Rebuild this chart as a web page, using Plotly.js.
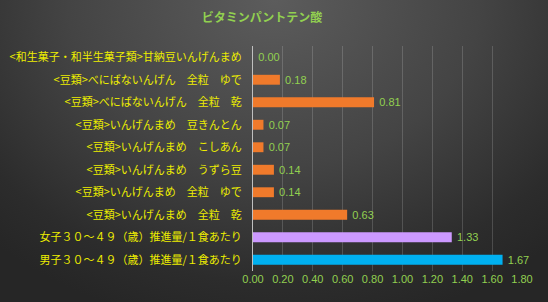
<!DOCTYPE html>
<html>
<head>
<meta charset="utf-8">
<script src="https://cdn.plot.ly/plotly-3.0.1.min.js"></script>
<style>
  html, body { margin: 0; padding: 0; }
  #chart {
    width: 548px; height: 302px;
    background: radial-gradient(ellipse 75% 110% at 50% 0%, #5c5c5c 0%, #444444 50%, #2c2c2c 85%, #262626 100%);
  }
</style>
</head>
<body>
<div id="chart"></div>
<script>
const categories = [
  "<和生菓子・和半生菓子類>甘納豆いんげんまめ",
  "<豆類>べにばないんげん　全粒　ゆで",
  "<豆類>べにばないんげん　全粒　乾",
  "<豆類>いんげんまめ　豆きんとん",
  "<豆類>いんげんまめ　こしあん",
  "<豆類>いんげんまめ　うずら豆",
  "<豆類>いんげんまめ　全粒　ゆで",
  "<豆類>いんげんまめ　全粒　乾",
  "女子３０～４９（歳）推進量/１食あたり",
  "男子３０～４９（歳）推進量/１食あたり"
];
const values = [0.00, 0.18, 0.81, 0.07, 0.07, 0.14, 0.14, 0.63, 1.33, 1.67];
const barColors = ["#F07A2B", "#F07A2B", "#F07A2B", "#F07A2B", "#F07A2B", "#F07A2B", "#F07A2B", "#F07A2B", "#CC99FF", "#00B0F0"];
const xTicks = [0, 0.2, 0.4, 0.6, 0.8, 1.0, 1.2, 1.4, 1.6, 1.8];
const xTickLabels = ["0.00", "0.20", "0.40", "0.60", "0.80", "1.00", "1.20", "1.40", "1.60", "1.80"];
const titleText = "ビタミンパントテン酸";

const trace = {
  type: "bar",
  orientation: "h",
  x: values,
  y: categories,
  marker: { color: barColors, line: { width: 0 } },
  texttemplate: "\u2009%{x:.2f}",
  textposition: "outside",
  constraintext: "none",
  textfont: { color: "#92D050", family: "Liberation Sans, Arial, sans-serif", size: 11 },
  cliponaxis: false,
  hoverinfo: "none"
};

const layout = {
  width: 548, height: 302,
  margin: { l: 253, r: 26, t: 46, b: 31 },
  paper_bgcolor: "rgba(0,0,0,0)",
  plot_bgcolor: "rgba(0,0,0,0)",
  showlegend: false,
  bargap: 0.56,
  title: {
    text: titleText,
    font: { color: "#92D050", size: 12, family: "Noto Sans CJK JP, sans-serif", weight: "bold" },
    xref: "container", x: 0.478, xanchor: "center",
    yref: "container", y: 0.94, yanchor: "middle"
  },
  xaxis: {
    range: [0, 1.8],
    tickvals: xTicks,
    ticktext: xTickLabels,
    showgrid: true,
    gridcolor: "rgba(255,255,255,0.16)",
    gridwidth: 1,
    zeroline: false,
    showline: false,
    tickfont: { color: "#92D050", size: 11, family: "Liberation Sans, Arial, sans-serif" },
    fixedrange: true
  },
  yaxis: {
    autorange: "reversed",
    type: "category",
    showgrid: false,
    zeroline: false,
    showline: true,
    linecolor: "#BFBFBF",
    linewidth: 1,
    ticks: "outside",
    ticklen: 8,
    tickcolor: "rgba(0,0,0,0)",
    tickfont: { color: "#EDED00", size: 11, family: "Noto Sans CJK JP, sans-serif" },
    fixedrange: true
  }
};

Plotly.newPlot("chart", [trace], layout, { displayModeBar: false, staticPlot: true });
</script>
</body>
</html>
